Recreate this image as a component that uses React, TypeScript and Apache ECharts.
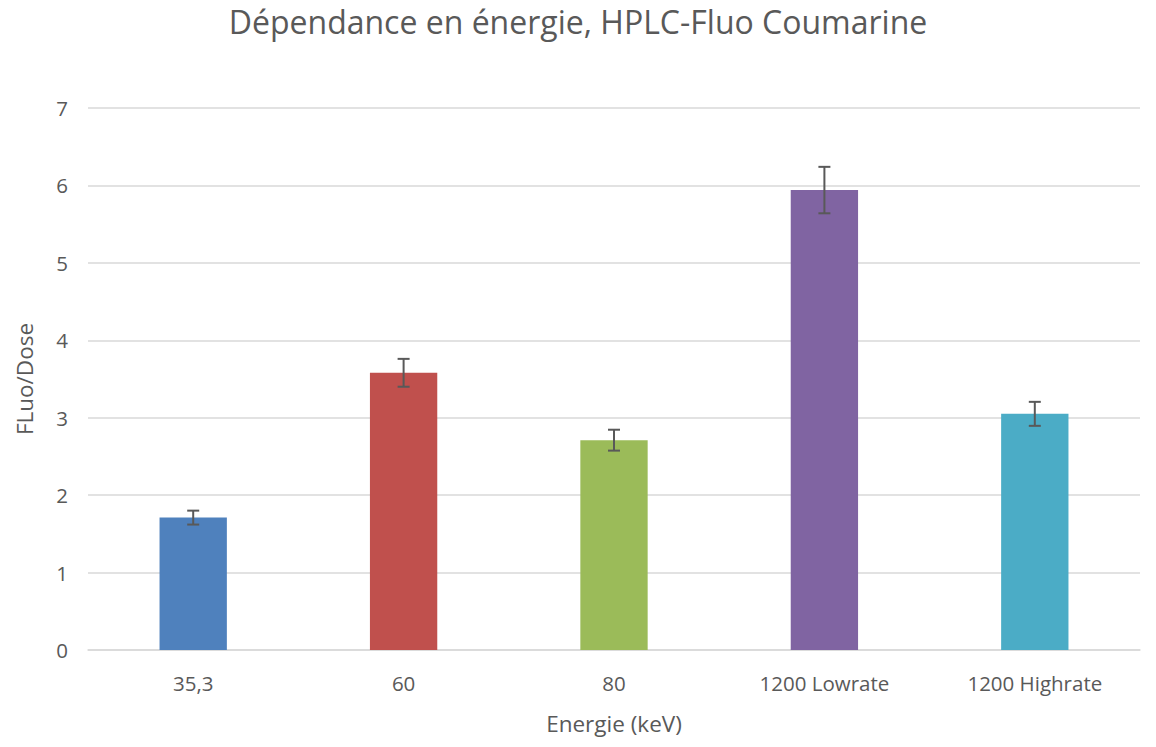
import React, { useEffect, useRef } from "react";
import * as echarts from "echarts";

const categories = ["35,3", "60", "80", "1200 Lowrate", "1200 Highrate"];
const values = [1.71, 3.58, 2.71, 5.94, 3.05];
const errors = [0.09, 0.18, 0.135, 0.3, 0.155];
const colors = ["#4F81BD", "#C0504D", "#9BBB59", "#8064A2", "#4BACC6"];

export default function App() {
  const ref = useRef<HTMLDivElement>(null);
  useEffect(() => {
    const chart = echarts.init(ref.current!, null, { renderer: "svg" });
    const font = "'Open Sans', 'Noto Sans', sans-serif";
    chart.setOption({
      animation: false,
      textStyle: { fontFamily: font },
      title: {
        text: "Dépendance en énergie, HPLC-Fluo Coumarine",
        left: "center",
        top: 0,
        textStyle: { fontFamily: font, fontSize: 32, fontWeight: "normal", color: "#595959" },
      },
      grid: { left: 88, right: 16, top: 108, bottom: 97, containLabel: false, outerBoundsMode: "none" },
      xAxis: {
        type: "category",
        data: categories,
        axisLine: { lineStyle: { color: "#D9D9D9", width: 1.5 } },
        axisTick: { show: false },
        axisLabel: { color: "#595959", fontSize: 20.5, margin: 22, fontFamily: font },
        name: "Energie (keV)",
        nameLocation: "middle",
        nameGap: 62,
        nameTextStyle: { color: "#595959", fontSize: 22.5, fontFamily: font },
      },
      yAxis: {
        type: "value",
        min: 0,
        max: 7,
        interval: 1,
        axisLine: { show: false },
        axisTick: { show: false },
        splitLine: { lineStyle: { color: "#D9D9D9", width: 1.5 } },
        axisLabel: { color: "#595959", fontSize: 20.5, margin: 20, fontFamily: font },
        name: "FLuo/Dose",
        nameLocation: "middle",
        nameGap: 52,
        nameTextStyle: { color: "#595959", fontSize: 22.5, fontFamily: font },
      },
      series: [
        {
          type: "bar",
          barWidth: "32%",
          data: values.map((v, i) => ({ value: v, itemStyle: { color: colors[i] } })),
        },
        {
          type: "custom",
          data: values.map((v, i) => [i, v - errors[i], v + errors[i]]),
          z: 10,
          renderItem: (params: any, api: any) => {
            const x = api.value(0);
            const lo = api.coord([x, api.value(1)]);
            const hi = api.coord([x, api.value(2)]);
            const cap = 6;
            const style = { stroke: "#595959", lineWidth: 2 };
            return {
              type: "group",
              children: [
                { type: "line", shape: { x1: lo[0], y1: lo[1], x2: hi[0], y2: hi[1] }, style },
                { type: "line", shape: { x1: lo[0] - cap, y1: lo[1], x2: lo[0] + cap, y2: lo[1] }, style },
                { type: "line", shape: { x1: hi[0] - cap, y1: hi[1], x2: hi[0] + cap, y2: hi[1] }, style },
              ],
            };
          },
        },
      ],
    });
    return () => chart.dispose();
  }, []);
  return <div ref={ref} style={{ width: 1156, height: 747, margin: -8 }} />;
}
